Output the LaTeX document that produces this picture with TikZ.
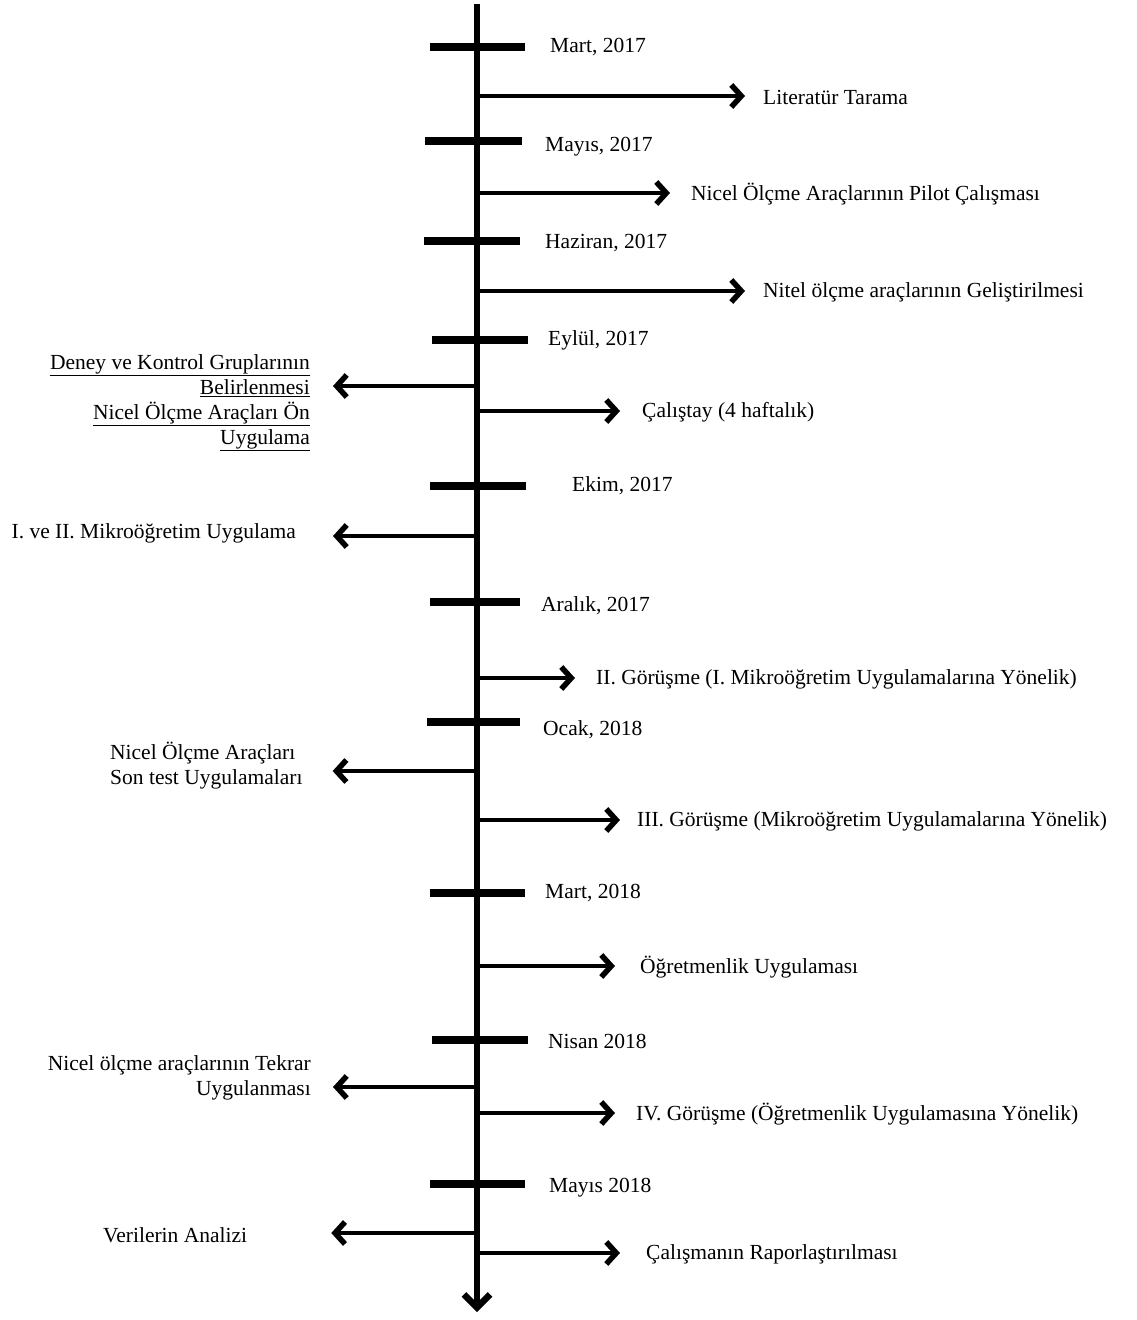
\documentclass[tikz,border=0pt]{standalone}
\usepackage{fontspec}
\setmainfont{Liberation Serif}
\usetikzlibrary{arrows.meta}
\begin{document}
\begin{tikzpicture}[x=1pt,y=-1pt,
  axisline/.style={line width=5.5pt,-{Straight Barb[length=13pt,width=26pt,line width=6.5pt]}},
  tickbar/.style={line width=8pt},
  arr/.style={line width=4.5pt,-{Straight Barb[length=10pt,width=22pt,line width=5.5pt]}},
  lbl/.style={inner sep=0pt,font=\fontsize{21.5}{25}\selectfont},
  date/.style={lbl,anchor=west},
  task/.style={lbl,anchor=west,yshift=-1pt},
]
\useasboundingbox (0,0) rectangle (1137,1320);

% time axis
\coordinate (top) at (477,4);
\coordinate (bot) at (477,1312);
\draw[axisline] (top) -- (bot);

% date ticks and labels
\foreach \n/\xa/\xb/\y/\lx/\ly/\txt in {
  1/430/525/47/550/47/{Mart, 2017},
  2/425/522/141/545/147/{Mayıs, 2017},
  3/424/520/241/545/243/{Haziran, 2017},
  4/432/528/340/548/340/{Eylül, 2017},
  5/430/526/486/572/486/{Ekim, 2017},
  6/430/520/602/541/606/{Aralık, 2017},
  7/427/520/722/543/730/{Ocak, 2018},
  8/430/525/893/545/893/{Mart, 2018},
  9/432/528/1040/548/1041/{Nisan 2018},
  10/430/525/1184/549/1188/{Mayıs 2018}}{
  \coordinate (ta\n) at (\xa,\y);
  \coordinate (tb\n) at (\xb,\y);
  \draw[tickbar] (ta\n) -- (tb\n);
  \node[date] (d\n) at (\lx,\ly) {\txt};
}

% activities to the right of the axis
\foreach \n/\y/\lx/\gap/\txt in {
  1/96/763/18/{Literatür Tarama},
  2/193/691/21/{Nicel Ölçme Araçlarının Pilot Çalışması},
  3/291/763/18/{Nitel ölçme araçlarının Geliştirilmesi},
  4/411/642/22/{Çalıştay (4 haftalık)},
  5/678/596/21/{II. Görüşme (I. Mikroöğretim Uygulamalarına Yönelik)},
  6/820/637/17/{III. Görüşme (Mikroöğretim Uygulamalarına Yönelik)},
  7/966/640/25/{Öğretmenlik Uygulaması},
  8/1113/636/21/{IV. Görüşme (Öğretmenlik Uygulamasına Yönelik)},
  9/1253/646/26/{Çalışmanın Raporlaştırılması}}{
  \coordinate (r\n) at (477,\y);
  \node[task] (e\n) at (\lx,\y) {\txt};
  \draw[arr,shorten >=\gap pt] (r\n) -- (r\n -| e\n.west);
}

% activities to the left of the axis
\coordinate (l1) at (477,386);
\node[lbl,anchor=east,align=right] (w1) at (310,402.5)
  {\underline{Deney ve Kontrol Gruplarının}\\\underline{Belirlenmesi}\\
   \underline{Nicel Ölçme Araçları Ön}\\\underline{Uygulama}};
\draw[arr,shorten >=23pt] (l1) -- (l1 -| w1.east);

\coordinate (l2) at (477,536);
\node[lbl,anchor=east] (w2) at (296,533) {I. ve II. Mikroöğretim Uygulama};
\draw[arr,shorten >=37pt] (l2) -- (l2 -| w2.east);

\coordinate (l3) at (477,771);
\node[lbl,anchor=west,align=left] (w3) at (110,766)
  {Nicel Ölçme Araçları\\Son test Uygulamaları};
\draw[arr,shorten >=30pt] (l3) -- (l3 -| w3.east);

\coordinate (l4) at (477,1087);
\node[lbl,anchor=east,align=right] (w4) at (311,1077.5)
  {Nicel ölçme araçlarının Tekrar\\Uygulanması};
\draw[arr,shorten >=22pt] (l4) -- (l4 -| w4.east);

\coordinate (l5) at (477,1233);
\node[lbl,anchor=west] (w5) at (103,1235) {Verilerin Analizi};
\draw[arr,shorten >=84pt] (l5) -- (l5 -| w5.east);
\end{tikzpicture}
\end{document}
